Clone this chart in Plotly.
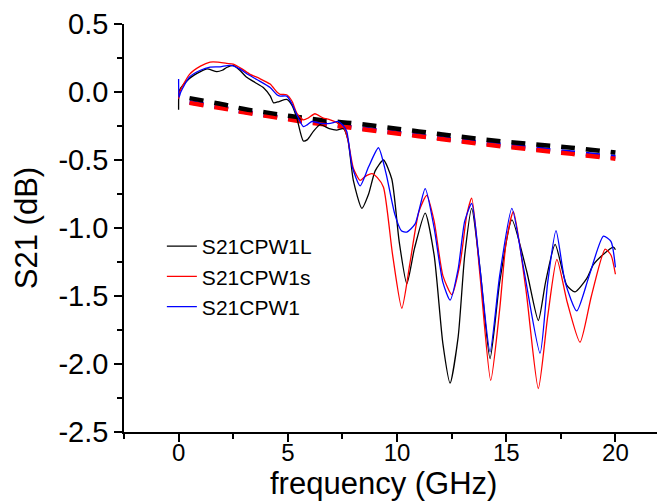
import plotly.graph_objects as go

# измеренные кривые S21 (частота в ГГц, S21 в дБ)
freq_L = [0.0, 0.02, 0.1, 0.5, 1.0, 1.3, 1.75, 2.0, 2.2, 2.5, 2.8, 3.1, 3.5, 3.9, 4.2, 4.35, 4.6, 4.95,
          5.2, 5.41, 5.71, 5.9, 6.17, 6.48, 6.9, 7.24, 7.55, 7.75, 8.0, 8.39, 8.7, 9.0, 9.38, 9.76,
          10.1, 10.45, 10.8, 11.29, 11.7, 12.1, 12.43, 12.8, 13.1, 13.42, 13.8, 14.26, 14.7, 15.26,
          15.94, 16.47, 16.8, 17.24, 17.77, 18.15, 18.69, 18.99, 19.4, 19.91, 20.0]
s21_L = [-0.13, 0.0, 0.03, 0.10, 0.15, 0.17, 0.15, 0.16, 0.18, 0.195, 0.16, 0.11, 0.07, 0.03, -0.03, -0.08, -0.07, -0.055,
         -0.10, -0.19, -0.36, -0.35, -0.29, -0.24, -0.27, -0.28, -0.27, -0.35, -0.65, -0.855, -0.75, -0.58, -0.50, -0.64,
         -1.10, -1.41, -1.15, -0.89, -1.20, -1.85, -2.14, -1.80, -1.20, -0.855, -1.30, -1.96, -1.40, -0.94,
         -1.32, -1.68, -1.40, -1.12, -1.42, -1.47, -1.37, -1.27, -1.20, -1.14, -1.16]

freq_s = [0.0, 0.05, 0.5, 1.0, 1.44, 1.8, 2.2, 2.5, 2.9, 3.27, 3.7, 4.19, 4.5, 4.65, 4.95, 5.2, 5.41, 5.71,
          5.95, 6.24, 6.6, 6.94, 7.3, 7.55, 7.75, 8.0, 8.31, 8.55, 8.85, 9.1, 9.38, 9.8, 10.22, 10.6,
          11.0, 11.36, 11.7, 12.1, 12.51, 12.9, 13.2, 13.42, 13.8, 14.29, 14.7, 15.0, 15.33, 15.9,
          16.47, 16.9, 17.32, 17.8, 18.38, 18.9, 19.53, 19.8, 20.0]
s21_s = [-0.05, 0.0, 0.13, 0.19, 0.22, 0.22, 0.21, 0.205, 0.17, 0.13, 0.10, 0.058, 0.0, -0.017, -0.02, -0.07, -0.155, -0.205,
         -0.19, -0.16, -0.19, -0.205, -0.23, -0.255, -0.35, -0.56, -0.65, -0.62, -0.60, -0.63, -0.70, -1.20, -1.59, -1.25,
         -0.88, -0.76, -0.95, -1.35, -1.49, -1.25, -0.90, -0.78, -1.35, -2.12, -1.60, -1.10, -0.88, -1.45,
         -2.18, -1.65, -1.23, -1.55, -1.84, -1.50, -1.155, -1.20, -1.34]

freq_1 = [0.0, 0.02, 0.1, 0.5, 1.0, 1.44, 1.9, 2.36, 2.8, 3.12, 3.6, 4.19, 4.5, 4.65, 4.95, 5.2, 5.41, 5.71,
          5.9, 6.1, 6.5, 6.94, 7.32, 7.55, 7.70, 7.95, 8.31, 8.7, 9.15, 9.5, 9.9, 10.2, 10.45, 10.83,
          11.29, 11.7, 12.1, 12.43, 12.8, 13.1, 13.42, 13.8, 14.26, 14.7, 15.26, 15.8, 16.55, 16.9,
          17.28, 17.7, 18.23, 18.8, 19.45, 19.8, 20.0]
s21_1 = [0.096, -0.04, 0.0, 0.11, 0.16, 0.183, 0.185, 0.196, 0.17, 0.134, 0.09, 0.033, -0.02, -0.03, -0.03, -0.09, -0.167, -0.255,
         -0.24, -0.217, -0.23, -0.23, -0.217, -0.25, -0.29, -0.55, -0.69, -0.55, -0.41, -0.60, -0.90, -1.02, -1.03, -0.97,
         -0.71, -1.00, -1.40, -1.53, -1.30, -0.95, -0.82, -1.30, -1.91, -1.35, -0.855, -1.30, -1.92, -1.40,
         -1.02, -1.40, -1.61, -1.35, -1.06, -1.10, -1.29]

# пунктирные кривые (сглаженные потери)
freq_fit = [0.5, 2, 3, 4, 5, 6, 7, 8, 10, 12, 14, 16, 18, 20]
fit_L = [-0.045, -0.09, -0.125, -0.15, -0.175, -0.195, -0.215, -0.23, -0.27, -0.31, -0.35, -0.38, -0.41, -0.445]
fit_s = [-0.08, -0.12, -0.15, -0.175, -0.20, -0.225, -0.245, -0.265, -0.305, -0.345, -0.385, -0.42, -0.455, -0.49]
fit_1 = [-0.075, -0.115, -0.145, -0.17, -0.195, -0.22, -0.24, -0.26, -0.30, -0.34, -0.375, -0.41, -0.445, -0.478]

# подписи делений (с обычным дефисом, как в оригинале)
y_ticks = [0.5, 0.0, -0.5, -1.0, -1.5, -2.0, -2.5]
y_ticktext = ['0.5', '0.0', '-0.5', '-1.0', '-1.5', '-2.0', '-2.5']
x_ticks = [0, 5, 10, 15, 20]

font = 'Arial, Liberation Sans, sans-serif'

fig = go.Figure()

for y, c in [(fit_1, 'blue'), (fit_s, 'red'), (fit_L, 'black')]:
    fig.add_trace(go.Scatter(x=freq_fit, y=y, mode='lines', showlegend=False,
                             line=dict(color=c, width=4.5, dash='14px,11px', shape='spline')))

for x, y, c, name in [(freq_L, s21_L, 'black', 'S21CPW1L'),
                      (freq_s, s21_s, 'red', 'S21CPW1s'),
                      (freq_1, s21_1, 'blue', 'S21CPW1')]:
    fig.add_trace(go.Scatter(x=x, y=y, mode='lines', name=name,
                             line=dict(color=c, width=1.3, shape='spline', smoothing=0.6)))

# страница добавляет отступ 8px, поэтому фигура чуть меньше окна
fig.update_layout(
    width=657, height=496,
    margin=dict(l=116, r=0, t=16, b=72),
    plot_bgcolor='white', paper_bgcolor='white',
    font=dict(family=font, color='black'),
    legend=dict(x=0.07, y=0.505, xanchor='left', yanchor='top',
                font=dict(size=21), bgcolor='rgba(0,0,0,0)', tracegroupgap=0),
    annotations=[dict(text='frequency (GHz)', xref='paper', yref='paper', x=0.479, y=0,
                      xanchor='center', yanchor='middle', yshift=-51, showarrow=False,
                      font=dict(size=31))],
)

fig.update_xaxes(
    range=[-2.5, 22.27], tickvals=x_ticks, automargin=False,
    showline=True, linecolor='black', linewidth=1.5,
    ticks='outside', ticklen=8, tickwidth=1.5, tickcolor='black',
    minor=dict(dtick=2.5, tick0=0, ticks='outside', ticklen=5, tickwidth=1.5, tickcolor='black'),
    showgrid=False, zeroline=False,
    tickfont=dict(size=24), ticklabelstandoff=-10,
)
fig.update_yaxes(
    range=[-2.5, 0.5], tickvals=y_ticks, ticktext=y_ticktext, automargin=False,
    showline=True, linecolor='black', linewidth=1.5,
    ticks='outside', ticklen=8, tickwidth=1.5, tickcolor='black',
    minor=dict(dtick=0.25, ticks='outside', ticklen=5, tickwidth=1.5, tickcolor='black'),
    showgrid=False, zeroline=False,
    tickfont=dict(size=29),
    title=dict(text='S21 (dB)', font=dict(size=31), standoff=12),
)

fig.write_html("out.html")
